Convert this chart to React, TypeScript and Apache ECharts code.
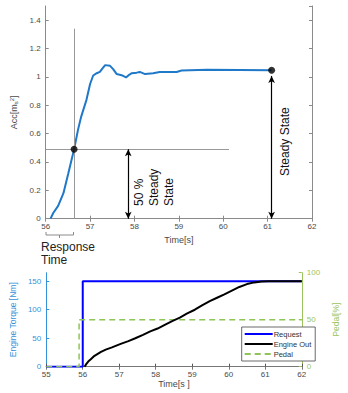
import React, { useEffect, useRef } from "react";
import * as echarts from "echarts";

// ---- Top chart: acceleration response ----
const accCurve: [number, number][] = [
  [56.11, 0], [56.17, 0.04], [56.28, 0.09], [56.4, 0.18], [56.51, 0.32], [56.64, 0.49],
  [56.73, 0.63], [56.8, 0.72], [56.92, 0.84], [57.0, 0.95], [57.07, 1.01], [57.15, 1.026],
  [57.22, 1.035], [57.28, 1.06], [57.34, 1.083], [57.45, 1.078], [57.52, 1.055], [57.6, 1.02],
  [57.71, 1.012], [57.81, 0.996], [57.88, 1.015], [57.94, 1.026], [58.05, 1.03], [58.12, 1.035],
  [58.24, 1.02], [58.42, 1.026], [58.57, 1.035], [58.72, 1.035], [58.95, 1.035], [59.06, 1.045],
  [59.63, 1.05], [61.09, 1.047],
];
const keyPoints: [number, number][] = [[56.64, 0.49], [61.09, 1.047]];
const responseTime = 56.64;
const halfSteady = 0.49;
const steadyValue = 1.047;
const halfArrowX = 57.86;
const steadyArrowX = 61.09;
const guideTop = 1.34;
const guideRight = 60.13;

// ---- Bottom chart: torque / pedal ----
const requestData: [number, number][] = [[55, 0], [56, 0], [56, 150], [62, 150]];
const engineOut: [number, number][] = [
  [56.05, 0], [56.1, 5], [56.15, 9], [56.22, 13], [56.3, 18], [56.4, 22], [56.5, 26],
  [56.63, 30], [56.8, 34], [57.04, 40], [57.25, 45], [57.44, 50], [57.65, 56], [57.85, 62],
  [58.05, 67], [58.26, 74], [58.45, 80], [58.66, 86], [58.85, 93], [59.07, 100], [59.28, 108],
  [59.48, 115], [59.68, 121], [59.88, 127], [60.1, 134], [60.29, 140], [60.5, 145],
  [60.7, 148], [60.9, 149.5], [61.1, 150], [62, 150],
];
const pedalData: [number, number][] = [[55, 0], [55.9, 0], [55.9, 50], [62, 50]];

const FONT = "'Liberation Sans', Arial, sans-serif";
const GRAY = "#8a8a8a";
const LABEL = "#4a4a4a";
const BLUE_AX = "#3592d8";
const GREEN_AX = "#9cc45e";

export default function App() {
  const ref = useRef<HTMLDivElement>(null);
  useEffect(() => {
    if (!ref.current) return;
    const chart = echarts.init(ref.current, undefined, { renderer: "svg" });
    const tickInside = (color: string) => ({ show: true, inside: true, length: 3, lineStyle: { color } });
    const option: any = {
      animation: false,
      backgroundColor: "#fff",
      textStyle: { fontFamily: FONT },
      grid: [
        { left: 45.7, top: 6, width: 266.3, height: 212.7 },
        { left: 33.3, top: 272.7, width: 286.7, height: 94 },
      ],
      xAxis: [
        {
          gridIndex: 0, type: "value", min: 56, max: 62, interval: 1,
          name: "Time[s]", nameLocation: "middle", nameGap: 14,
          nameTextStyle: { fontSize: 9, color: LABEL, fontFamily: FONT },
          axisLine: { lineStyle: { color: GRAY } }, axisTick: tickInside(GRAY),
          axisLabel: { fontSize: 8, color: LABEL, margin: 4, fontFamily: FONT },
          splitLine: { show: false },
        },
        {
          gridIndex: 0, type: "value", min: 56, max: 62, interval: 1, position: "top",
          axisLine: { lineStyle: { color: GRAY } }, axisTick: tickInside(GRAY),
          axisLabel: { show: false }, splitLine: { show: false },
        },
        {
          gridIndex: 1, type: "value", min: 55, max: 62, interval: 1,
          name: "Time[s ]", nameLocation: "middle", nameGap: 13,
          nameTextStyle: { fontSize: 9, color: LABEL, fontFamily: FONT },
          axisLine: { lineStyle: { color: "#555" } }, axisTick: tickInside("#555"),
          axisLabel: { fontSize: 8, color: LABEL, margin: 4, fontFamily: FONT },
          splitLine: { show: false },
        },
        {
          gridIndex: 1, type: "value", min: 55, max: 62, interval: 1, position: "top",
          axisLine: { lineStyle: { color: "#777" } }, axisTick: tickInside("#777"),
          axisLabel: { show: false }, splitLine: { show: false },
        },
      ],
      yAxis: [
        {
          gridIndex: 0, type: "value", min: 0, max: 1.5, interval: 0.2,
          name: "Acc[m{sub|s}{sup|2}]", nameLocation: "middle", nameGap: 22,
          nameTextStyle: {
            fontSize: 9, color: LABEL, fontFamily: FONT,
            rich: {
              sub: { fontSize: 6, color: LABEL, verticalAlign: "bottom", padding: [4, 0, 0, 0] },
              sup: { fontSize: 6, color: LABEL, verticalAlign: "top", padding: [0, 0, 4, 0] },
            },
          },
          axisLine: { show: true, lineStyle: { color: GRAY } }, axisTick: tickInside(GRAY),
          axisLabel: { fontSize: 8, color: LABEL, margin: 5, showMaxLabel: false, fontFamily: FONT },
          splitLine: { show: false },
        },
        {
          gridIndex: 0, type: "value", min: 0, max: 1.5, interval: 0.2, position: "right",
          axisLine: { show: true, lineStyle: { color: GRAY } }, axisTick: tickInside(GRAY),
          axisLabel: { show: false }, splitLine: { show: false },
        },
        {
          gridIndex: 1, type: "value", min: 0, max: 165, interval: 50,
          name: "Engine Torque [Nm]", nameLocation: "middle", nameGap: 18,
          nameTextStyle: { fontSize: 8.5, color: BLUE_AX, fontFamily: FONT },
          axisLine: { show: true, lineStyle: { color: BLUE_AX } }, axisTick: tickInside(BLUE_AX),
          axisLabel: { fontSize: 8, color: BLUE_AX, margin: 5, showMaxLabel: false, fontFamily: FONT },
          splitLine: { show: false },
        },
        {
          gridIndex: 1, type: "value", min: 0, max: 100, interval: 50, position: "right",
          name: "Pedal[%]", nameLocation: "middle", nameGap: 18,
          nameTextStyle: { fontSize: 8.5, color: GREEN_AX, fontFamily: FONT },
          axisLine: { show: true, lineStyle: { color: GREEN_AX } }, axisTick: tickInside(GREEN_AX),
          axisLabel: { fontSize: 8, color: GREEN_AX, margin: 5, fontFamily: FONT },
          splitLine: { show: false },
        },
      ],
      legend: {
        orient: "vertical", left: 241.7, top: 327, width: 70,
        padding: [3, 4, 3, 2], itemGap: 2, itemWidth: 28, itemHeight: 7,
        backgroundColor: "#fff", borderColor: "#444", borderWidth: 0.8,
        itemStyle: { opacity: 0 },
        textStyle: { fontSize: 7.5, color: "#333", padding: [0, 0, 0, -4], fontFamily: FONT },
        data: ["Request", "Engine Out", "Pedal"],
      },
      series: [
        {
          name: "acc", type: "line", xAxisIndex: 0, yAxisIndex: 0, data: accCurve,
          symbol: "none", lineStyle: { color: "#1f78c8", width: 2 }, z: 4,
          markLine: {
            silent: true, symbol: "none", label: { show: false },
            lineStyle: { color: "#999", width: 1, type: "solid" },
            data: [
              [{ coord: [responseTime, 0] }, { coord: [responseTime, guideTop] }],
              [{ coord: [56, halfSteady] }, { coord: [guideRight, halfSteady] }],
            ],
          },
        },
        {
          name: "arrows", type: "line", xAxisIndex: 0, yAxisIndex: 0, data: [],
          markLine: {
            silent: true, symbol: ["arrow", "arrow"], symbolSize: [5, 7], label: { show: false },
            lineStyle: { color: "#000", width: 1.2, type: "solid" },
            data: [
              [{ coord: [halfArrowX, halfSteady] }, { coord: [halfArrowX, 0] }],
              [{ coord: [steadyArrowX, steadyValue - 0.04] }, { coord: [steadyArrowX, 0] }],
            ],
          },
        },
        {
          name: "points", type: "scatter", xAxisIndex: 0, yAxisIndex: 0, data: keyPoints,
          symbolSize: 7, itemStyle: { color: "#000" }, z: 6,
        },
        {
          name: "Request", type: "line", xAxisIndex: 2, yAxisIndex: 2, data: requestData,
          symbol: "none", lineStyle: { color: "#0000ff", width: 2 }, itemStyle: { color: "#0000ff" }, z: 3,
        },
        {
          name: "Engine Out", type: "line", xAxisIndex: 2, yAxisIndex: 2, data: engineOut,
          symbol: "none", lineStyle: { color: "#000", width: 2 }, itemStyle: { color: "#000" }, z: 5,
        },
        {
          name: "Pedal", type: "line", xAxisIndex: 2, yAxisIndex: 3, data: pedalData,
          symbol: "none", lineStyle: { color: "#8fc456", width: 1.5, type: [6, 4] },
          itemStyle: { color: "#8fc456" }, z: 4,
        },
      ],
      graphic: [
        {
          type: "text", x: 131, y: 206, rotation: Math.PI / 2,
          style: {
            text: "50 %\nSteady\nState", fill: "#111", font: `12px ${FONT}`,
            textAlign: "left", textVerticalAlign: "top", lineHeight: 15,
          },
        },
        {
          type: "text", x: 278.5, y: 176, rotation: Math.PI / 2,
          style: {
            text: "Steady State", fill: "#111", font: `12px ${FONT}`,
            textAlign: "left", textVerticalAlign: "top",
          },
        },
        {
          type: "polyline",
          shape: { points: [[46, 232], [46, 235], [73.5, 235], [73.5, 232]] },
          style: { stroke: GRAY, lineWidth: 1, fill: "none" },
        },
        {
          type: "line", shape: { x1: 59.5, y1: 235, x2: 59.5, y2: 238 },
          style: { stroke: GRAY, lineWidth: 1 },
        },
        {
          type: "text", x: 41, y: 247,
          style: { text: "Response", fill: "#222", font: `12px ${FONT}`, textVerticalAlign: "middle" },
        },
        {
          type: "text", x: 41, y: 260,
          style: { text: "Time", fill: "#222", font: `12px ${FONT}`, textVerticalAlign: "middle" },
        },
      ],
    };
    chart.setOption(option);
    return () => chart.dispose();
  }, []);
  return (
    <div
      ref={ref}
      style={{ position: "fixed", left: 0, top: 0, width: 348, height: 393, background: "#fff" }}
    />
  );
}
